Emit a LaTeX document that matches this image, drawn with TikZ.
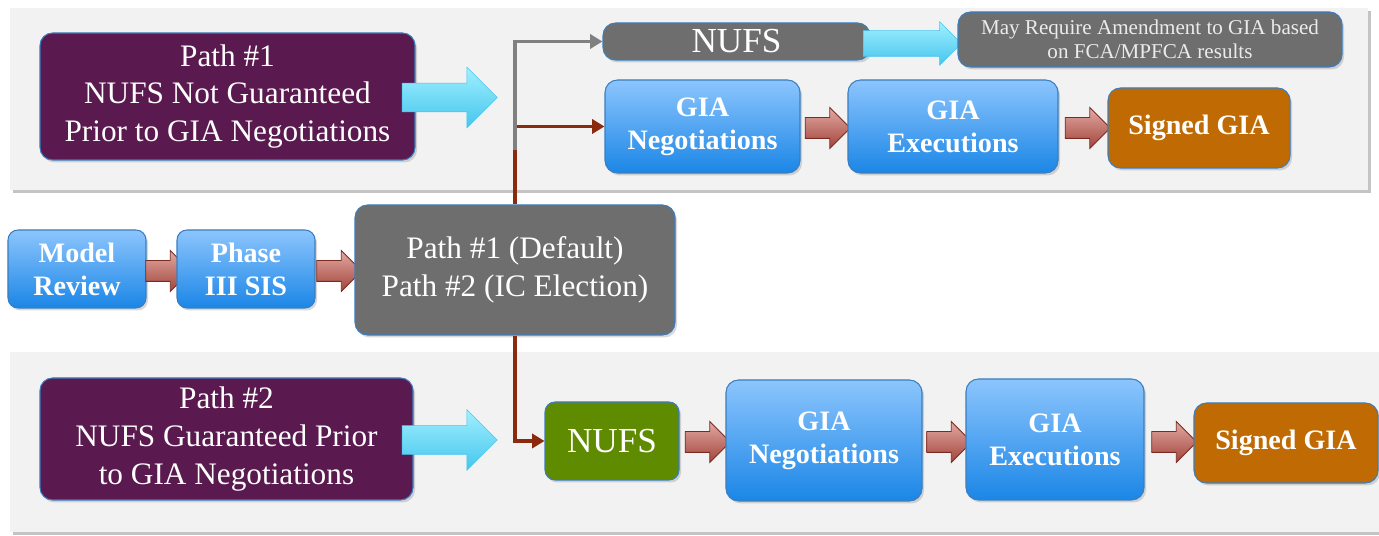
\documentclass[tikz,border=0pt]{standalone}
\usepackage{fontspec}
\setmainfont{Liberation Serif}
\usepackage{tikz}
\usetikzlibrary{arrows.meta,calc,positioning,shapes.arrows,shadows}

\definecolor{bandfill}{HTML}{F2F2F2}
\definecolor{bandshade}{HTML}{C4C4C4}
\definecolor{boxline}{HTML}{3B7DBE}
\definecolor{pathpurple}{HTML}{5A1A4F}
\definecolor{bluetop}{HTML}{8CC5FD}
\definecolor{bluebot}{HTML}{1B86E6}
\definecolor{darkgray}{HTML}{6E6E6E}
\definecolor{signorange}{HTML}{BF6A02}
\definecolor{nufsgreen}{HTML}{5E8B00}
\definecolor{cyantop}{HTML}{A0F0FE}
\definecolor{cyanbot}{HTML}{46C5EE}
\definecolor{redtop}{HTML}{E2AAA4}
\definecolor{redbot}{HTML}{A2443A}
\definecolor{redline}{HTML}{7A2A1F}
\definecolor{linkbrown}{HTML}{8A2B0E}
\definecolor{linkgray}{HTML}{808080}

\begin{document}
\begin{tikzpicture}[
		box/.style={rounded corners=0.25cm, draw=boxline, line width=0.6pt, text=white, align=center, inner sep=0pt,
			drop shadow={shadow xshift=0.04cm, shadow yshift=-0.05cm, opacity=0.3}},
		bluebox/.style={box, top color=bluetop, bottom color=bluebot, font=\bfseries\fontsize{16}{18.8}\selectfont},
		pathbox/.style={box, fill=pathpurple, font=\fontsize{17.8}{21.6}\selectfont},
		graybox/.style={box, fill=darkgray},
		signbox/.style={box, fill=signorange, font=\bfseries\fontsize{16}{18.8}\selectfont},
		fatarrow/.style={single arrow, inner xsep=0pt, inner ysep=0.2cm, minimum height=0.9cm, single arrow head extend=0.2cm,
			top color=redtop, bottom color=redbot, draw=redline, line width=0.5pt},
		cyanarrow/.style={single arrow, inner xsep=0pt, inner ysep=0.28cm, minimum height=1.9cm, single arrow head extend=0.32cm,
			top color=cyantop, bottom color=cyanbot, draw=cyanbot, line width=0.3pt},
		link/.style={line width=2pt, -{Triangle[length=7pt,width=8pt]}}
	]
		\useasboundingbox (0,0) rectangle (27.58,10.72);
		% bands
		\fill[bandshade] (0.26,6.86) rectangle (27.42,10.5);
		\fill[bandfill] (0.2,6.92) rectangle (27.36,10.56);
		\fill[bandshade] (0.26,0.02) rectangle (27.58,3.62);
		\fill[bandfill] (0.2,0.08) rectangle (27.58,3.68);

		% path 1
		\node[pathbox, minimum width=7.5cm, minimum height=2.54cm] (path1) at (4.55,8.79) {Path \#1\\NUFS Not Guaranteed\\Prior to GIA Negotiations};
		\node[cyanarrow] (cyan1) at (8.85,8.77) {};
		\node[graybox, minimum width=5.34cm, minimum height=0.74cm, font=\fontsize{20}{22}\selectfont] (nufsA) at (14.73,9.89) {NUFS};
		\node[cyanarrow, minimum height=1.96cm, inner ysep=0.25cm, single arrow head extend=0.18cm] (cyan2) at (18.12,9.85) {};
		\node[graybox, minimum width=7.68cm, minimum height=1.1cm, text=white!92!black, font=\fontsize{12}{13.7}\selectfont] (amend) at (23.0,9.93) {May Require Amendment to GIA based\\on FCA/MPFCA results};
		\node[bluebox, minimum width=3.9cm, minimum height=1.86cm] (negA) at (14.05,8.19) {GIA\\Negotiations};
		\node[fatarrow] (arA1) at (16.45,8.16) {};
		\node[bluebox, minimum width=4.2cm, minimum height=1.86cm] (exeA) at (19.06,8.19) {GIA\\Executions};
		\node[fatarrow] (arA2) at (21.65,8.16) {};
		\node[signbox, minimum width=3.64cm, minimum height=1.6cm] (signA) at (23.98,8.16) {Signed GIA};

		% start
		\node[bluebox, minimum width=2.76cm, minimum height=1.56cm, rounded corners=0.2cm] (model) at (1.54,5.34) {Model\\Review};
		\node[fatarrow] (arM) at (3.26,5.30) {};
		\node[bluebox, minimum width=2.76cm, minimum height=1.56cm, rounded corners=0.2cm] (phase) at (4.92,5.34) {Phase\\III SIS};
		\node[fatarrow] (arP) at (6.68,5.30) {};
		\node[graybox, minimum width=6.4cm, minimum height=2.6cm, font=\fontsize{17.8}{21.6}\selectfont] (choice) at (10.30,5.32) {Path \#1 (Default)\\Path \#2 (IC Election)};

		% path 2
		\node[pathbox, minimum width=7.46cm, minimum height=2.44cm] (path2) at (4.53,1.94) {Path \#2\\NUFS Guaranteed Prior\\to GIA Negotiations};
		\node[cyanarrow] (cyan3) at (8.85,1.92) {};
		\node[box, fill=nufsgreen, minimum width=2.68cm, minimum height=1.56cm, rounded corners=0.2cm, font=\fontsize{20}{22}\selectfont] (nufsB) at (12.24,1.90) {NUFS};
		\node[fatarrow] (arB1) at (14.05,1.88) {};
		\node[bluebox, minimum width=3.92cm, minimum height=2.42cm] (negB) at (16.48,1.91) {GIA\\Negotiations};
		\node[fatarrow] (arB2) at (18.88,1.88) {};
		\node[bluebox, minimum width=3.56cm, minimum height=2.42cm] (exeB) at (21.1,1.93) {GIA\\Executions};
		\node[fatarrow] (arB3) at (23.38,1.88) {};
		\node[signbox, minimum width=3.68cm, minimum height=1.6cm] (signB) at (25.72,1.86) {Signed GIA};

		% links
		\coordinate (split) at (10.30,7.72);
		\draw[link, linkbrown] (choice.north) |- (negA.west);
		\draw[link, linkgray] (split) |- (nufsA.west);
		\draw[link, linkbrown] (choice.south) |- (nufsB.west);
\end{tikzpicture}
\end{document}
